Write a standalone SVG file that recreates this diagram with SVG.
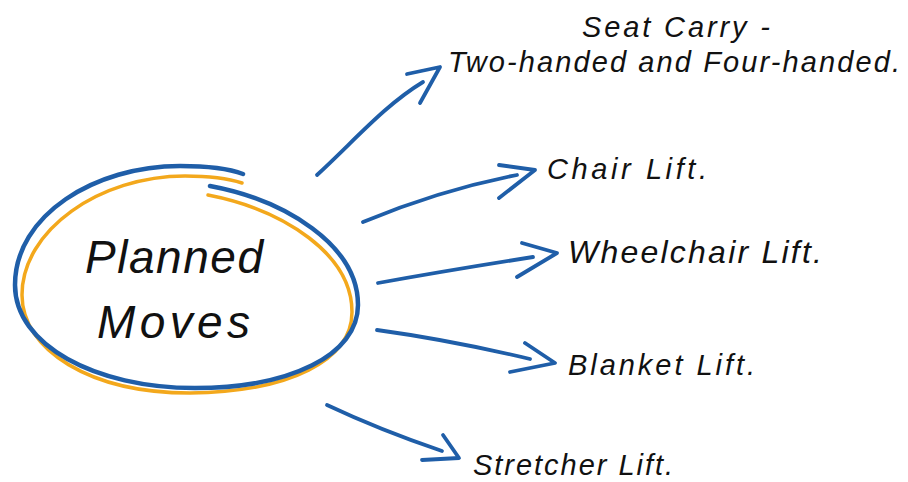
<svg xmlns="http://www.w3.org/2000/svg" width="908" height="482" viewBox="0 0 908 482">
<style>
.bg{fill:#ffffff}
.blue{fill:none;stroke:#1f5ea8;stroke-width:4.5;stroke-linecap:round;stroke-linejoin:round}
.orange{fill:none;stroke:#f3a81c;stroke-width:3.5;stroke-linecap:round}
.arr{fill:none;stroke:#1f5ea8;stroke-width:3.8;stroke-linecap:round;stroke-linejoin:round}
.lbl{font-family:"Liberation Sans",Arial,sans-serif;font-style:italic;font-size:29px;fill:#111111}
.main{font-family:"Liberation Sans",Arial,sans-serif;font-style:italic;font-size:46px;fill:#111111}
</style>
<rect class="bg" x="0" y="0" width="908" height="482"/>
<g id="planned-moves">
<path class="orange" d="M208,195 C285,210 352,255 352,312 C352,360 290,392 190,393 C90,393 22,350 22,295 C22,230 100,176 185,176 C210,176 230,179 242,183"/>
<path class="blue" d="M210,186 C285,200 358,245 358,305 C358,355 290,388 195,388 C95,388 15,345 15,285 C15,215 95,166 180,166 C210,166 230,169 243,174"/>
<text class="main" x="85" y="273" textLength="178" lengthAdjust="spacing">Planned</text>
<text class="main" x="97" y="338" textLength="153" lengthAdjust="spacing">Moves</text>
</g>
<g id="seat-carry">
<text class="lbl" x="582" y="37" textLength="188" lengthAdjust="spacing">Seat Carry -</text>
<text class="lbl" x="448" y="72" textLength="452" lengthAdjust="spacing">Two-handed and Four-handed.</text>
</g>
<g id="chair-lift">
<text class="lbl" x="547" y="179" textLength="160" lengthAdjust="spacing">Chair Lift.</text>
</g>
<g id="wheelchair-lift">
<text class="lbl" x="568" y="263" textLength="254" lengthAdjust="spacing" style="font-size:32px">Wheelchair Lift.</text>
</g>
<g id="blanket-lift">
<text class="lbl" x="568" y="375" textLength="187" lengthAdjust="spacing">Blanket Lift.</text>
</g>
<g id="stretcher-lift">
<text class="lbl" x="473" y="475" textLength="200" lengthAdjust="spacing">Stretcher Lift.</text>
</g>
<g id="connectors">
<path class="arr" d="M317,175 C355,140 385,105 423,82"/>
<path class="arr" d="M407,74 L440,67 L420,103"/>
<path class="arr" d="M363,222 Q440,190 517,175"/>
<path class="arr" d="M499,165 L535,170 L499,198"/>
<path class="arr" d="M378,283 Q450,270 533,257"/>
<path class="arr" d="M522,243 L557,253 L517,277"/>
<path class="arr" d="M377,330 Q450,340 530,359"/>
<path class="arr" d="M525,343 L555,363 L510,372"/>
<path class="arr" d="M327,405 Q380,430 442,451"/>
<path class="arr" d="M443,435 L459,458 L422,460"/>
</g>
</svg>
